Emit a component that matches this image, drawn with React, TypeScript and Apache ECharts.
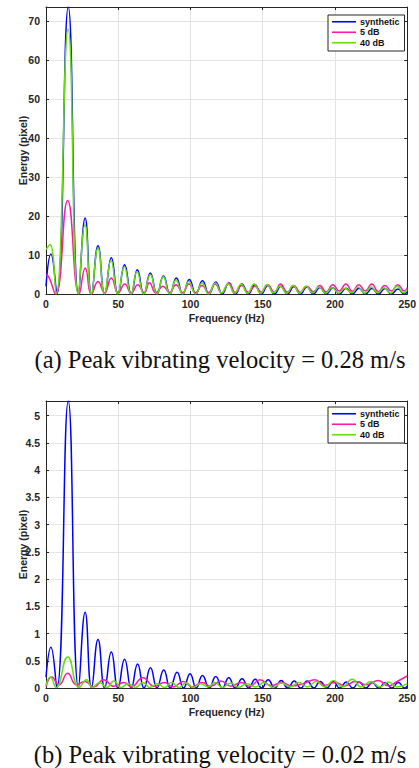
import React, { useEffect, useRef } from 'react';
import * as echarts from 'echarts';

const seriesNames = ['synthetic', '5 dB', '40 dB'];
const seriesColors = ['#0000ff', '#ff1aa6', '#66dd11'];
const captions = ['(a) Peak vibrating velocity = 0.28 m/s', '(b) Peak vibrating velocity = 0.02 m/s'];

// Chart (a): [frequency Hz, energy]
const synthA: number[][] = [[0,2],[3.4,10.3],[7.5,0],[15.4,73.7],[22.5,0],[27.1,19.5],[31.5,0],[36,12.4],[40.6,0],[45.2,9.3],[49.8,0],[54.4,7.5],[59,0],[63.2,6.2],[67.7,0],[72.2,5.4],[76.8,0],[81.3,4.6],[85.8,0],[90.2,4.1],[94.7,0],[99.2,3.7],[103.7,0],[108.3,3.4],[112.8,0],[117.5,3.1],[122,0],[126.5,2.8],[131,0],[135.6,2.6],[140,0],[144.6,2.4],[149,0],[153.6,2.2],[158,0],[162.6,2.0],[167,0],[171.6,1.9],[176,0],[180.6,1.8],[185,0],[189.6,1.7],[194,0],[198.6,1.6],[203,0],[207.6,1.5],[212,0],[216.6,1.5],[221,0],[225.6,1.4],[230,0],[234.6,1.4],[239,0],[243.6,1.3],[248,0],[250,0.6]];
const db5A: number[][] = [[0,4.8],[1.5,4.6],[6.5,0],[15,24],[23,0],[27.2,6.7],[31.5,0],[36,3.2],[40.5,0.3],[45.2,4.1],[50,0.3],[54.5,2.6],[59,0.2],[63.5,2.4],[68,0.3],[71.6,2.9],[76,0.3],[81,2.0],[85.5,0.4],[90,2.4],[94.5,0.3],[99,2.6],[103.5,0.3],[108,2.2],[112.5,0.4],[117,2.6],[121.5,0.3],[126.7,2.8],[131,0.4],[135.5,2.2],[140,0.4],[144.5,2.0],[149,0.5],[153.5,2.4],[158,0.4],[162.3,2.6],[167,0.5],[171.5,2.2],[176,0.4],[180.5,2.0],[185,0.6],[189.5,2.2],[194,0.5],[198.5,2.4],[203,0.8],[207.5,2.6],[212,0.7],[216.5,2.4],[221,0.8],[225.5,2.6],[230,0.6],[234.5,2.2],[239,0.8],[243.5,2.4],[248,0.8],[250,1.6]];
const db40A: number[][] = [[0,11.4],[2.8,12.7],[7,0],[15.3,68],[22.3,0],[27,17.8],[31.4,0],[36,11.8],[40.5,0],[45,8.6],[49.6,0],[54.2,7.0],[58.8,0],[63,5.8],[67.5,0],[72.2,5.0],[76.7,0],[81.2,4.4],[85.6,0],[90,3.6],[94.5,0],[98.8,3.2],[103.5,0],[108,2.8],[112.5,0],[117.2,2.8],[121.5,0.3],[126,2.6],[130.5,0.2],[135,2.5],[139.5,0.2],[144,2.6],[148.5,0.2],[153,2.4],[157.5,0.3],[162,2.0],[166.5,0.2],[171,2.2],[175.5,0.2],[180,2.0],[184.5,0.3],[189,1.8],[193.5,0.2],[198,1.6],[202.5,0.2],[207,1.5],[211.5,0.3],[216,1.8],[220.5,0.2],[225,1.8],[229.5,0.3],[234,1.6],[238.5,0.2],[243,2.0],[247.5,0.3],[250,1.2]];

// Chart (b)
const synthB: number[][] = [[0,0.2],[3.4,0.75],[7.5,0],[15.4,5.27],[22.5,0],[27.1,1.39],[31.5,0],[36,0.89],[40.6,0],[45.2,0.66],[49.8,0],[54.4,0.53],[59,0],[63.4,0.44],[67.8,0],[72.3,0.37],[76.8,0],[81.5,0.33],[86,0],[90.7,0.29],[95.2,0],[99.7,0.26],[104,0],[108.3,0.23],[113,0],[117.5,0.21],[122,0],[126.5,0.19],[131,0],[135.7,0.17],[140.2,0],[144.8,0.16],[149.3,0],[153.8,0.15],[158.3,0],[162.8,0.14],[167.3,0],[171.8,0.13],[176.3,0],[180.8,0.13],[185.3,0],[189.8,0.12],[194.3,0],[198.8,0.12],[203.3,0],[207.8,0.11],[212.3,0],[216.8,0.11],[221.3,0],[225.8,0.1],[230.3,0],[234.8,0.1],[239.3,0],[243.8,0.1],[248.3,0],[250,0.04]];
const db5B: number[][] = [[0,0.02],[4,0.2],[9,0.06],[15,0.27],[21,0.06],[27,0.12],[33,0.02],[40,0.15],[47,0.03],[54,0.1],[59,0.02],[67,0.19],[75,0.03],[82,0.1],[88,0.02],[95,0.12],[101,0.02],[108,0.1],[114,0.03],[121,0.13],[128,0.03],[135,0.1],[141,0.03],[148,0.15],[156,0.04],[163,0.1],[170,0.04],[178,0.08],[186,0.15],[193,0.05],[200,0.1],[207,0.04],[214,0.12],[222,0.06],[230,0.14],[237,0.04],[243,0.12],[250,0.22]];
const db40B: number[][] = [[0,0.05],[3,0.2],[7,0.01],[15,0.57],[23,0.01],[28,0.15],[32,0.01],[37,0.1],[42,0.01],[47,0.13],[52,0.01],[57,0.08],[62,0.01],[67,0.1],[72,0.01],[77,0.08],[82,0.01],[87,0.1],[92,0.01],[97,0.09],[102,0.01],[107,0.08],[112,0.02],[117,0.1],[122,0.01],[128,0.09],[133,0.01],[139,0.08],[145,0.02],[151,0.1],[157,0.01],[163,0.09],[169,0.02],[175,0.1],[181,0.02],[187,0.12],[193,0.02],[199,0.14],[205,0.02],[212,0.16],[218,0.02],[225,0.12],[231,0.02],[237,0.11],[243,0.02],[250,0.08]];

const xMin = 0, xMax = 250, xStep = 50;
const yMaxA = 73.7, yStepA = 10;
const yMaxB = 5.27, yStepB = 0.5;

const AX = '#262626';
const SANS = 'Liberation Sans';

export default function App() {
  const ref = useRef<HTMLDivElement>(null);
  useEffect(() => {
    const chart = echarts.init(ref.current!, null, { renderer: 'svg' });
    const grids = [
      { left: 46, top: 7, width: 363, height: 287 },
      { left: 46, top: 401, width: 363, height: 287 },
    ];
    const yCfg = [
      { max: yMaxA, interval: yStepA },
      { max: yMaxB, interval: yStepB },
    ];
    const labelStyle = { fontFamily: SANS, fontWeight: 'bold' as const, fontSize: 10.5, color: AX };
    const xAxes: any[] = [];
    const yAxes: any[] = [];
    grids.forEach((_, i) => {
      xAxes.push({
        type: 'value', gridIndex: i, min: xMin, max: xMax, interval: xStep, position: 'bottom',
        axisLine: { show: true, onZero: false, lineStyle: { color: AX, width: 1 } },
        axisTick: { show: true, inside: true, length: 3, lineStyle: { color: AX } },
        axisLabel: { ...labelStyle, margin: 4 },
        splitLine: { show: true, lineStyle: { color: '#e3e3e3', width: 1 } },
        name: 'Frequency (Hz)', nameLocation: 'middle', nameGap: 18, nameMoveOverlap: false,
        nameTextStyle: { ...labelStyle },
      });
      xAxes.push({
        type: 'value', gridIndex: i, min: xMin, max: xMax, interval: xStep, position: 'top',
        axisLine: { show: true, onZero: false, lineStyle: { color: AX, width: 1 } },
        axisTick: { show: true, inside: true, length: 3, lineStyle: { color: AX } },
        axisLabel: { show: false }, splitLine: { show: false },
      });
      yAxes.push({
        type: 'value', gridIndex: i, min: 0, max: yCfg[i].max, interval: yCfg[i].interval, position: 'left',
        axisLine: { show: true, onZero: false, lineStyle: { color: AX, width: 1 } },
        axisTick: { show: true, inside: true, length: 3, lineStyle: { color: AX } },
        axisLabel: { ...labelStyle, margin: 6, showMaxLabel: false },
        splitLine: { show: true, lineStyle: { color: '#e3e3e3', width: 1 } },
        name: 'Energy (pixel)', nameLocation: 'middle', nameGap: 18, nameMoveOverlap: false,
        nameTextStyle: { ...labelStyle },
      });
      yAxes.push({
        type: 'value', gridIndex: i, min: 0, max: yCfg[i].max, interval: yCfg[i].interval, position: 'right',
        axisLine: { show: true, onZero: false, lineStyle: { color: AX, width: 1 } },
        axisTick: { show: true, inside: true, length: 3, lineStyle: { color: AX } },
        axisLabel: { show: false }, splitLine: { show: false },
      });
    });
    const datasets = [[synthA, db5A, db40A], [synthB, db5B, db40B]];
    const series: any[] = [];
    datasets.forEach((sets, gi) => {
      sets.forEach((d, si) => {
        series.push({
          type: 'line', name: seriesNames[si], data: d,
          xAxisIndex: gi * 2, yAxisIndex: gi * 2,
          smooth: 0.5, symbol: 'none', clip: true,
          lineStyle: { color: seriesColors[si], width: 1.5 },
          itemStyle: { color: seriesColors[si] },
        });
      });
    });
    const legendBase = {
      orient: 'vertical', left: 328, itemWidth: 24, itemHeight: 1.6, itemGap: 0,
      icon: 'rect', data: seriesNames, selectedMode: false,
      padding: [1.5, 5, 3, 4], borderColor: AX, borderWidth: 1, backgroundColor: '#fff',
      textStyle: { fontFamily: SANS, fontWeight: 'bold', fontSize: 9, color: '#111', lineHeight: 10.5, padding: [0, 0, 0, -1] },
    };
    chart.setOption({
      animation: false,
      grid: grids,
      xAxis: xAxes,
      yAxis: yAxes,
      legend: [
        { ...legendBase, top: 15 },
        { ...legendBase, top: 407 },
      ],
      series,
      graphic: captions.map((t, i) => ({
        type: 'text', x: 220, y: i === 0 ? 359 : 754,
        style: { text: t, fontFamily: 'Liberation Serif', fontSize: 24.5, fill: '#111', align: 'center', verticalAlign: 'middle' },
      })),
    });
    return () => chart.dispose();
  }, []);
  return <div ref={ref} style={{ position: 'absolute', left: 0, top: 0, width: 419, height: 768 }} />;
}
